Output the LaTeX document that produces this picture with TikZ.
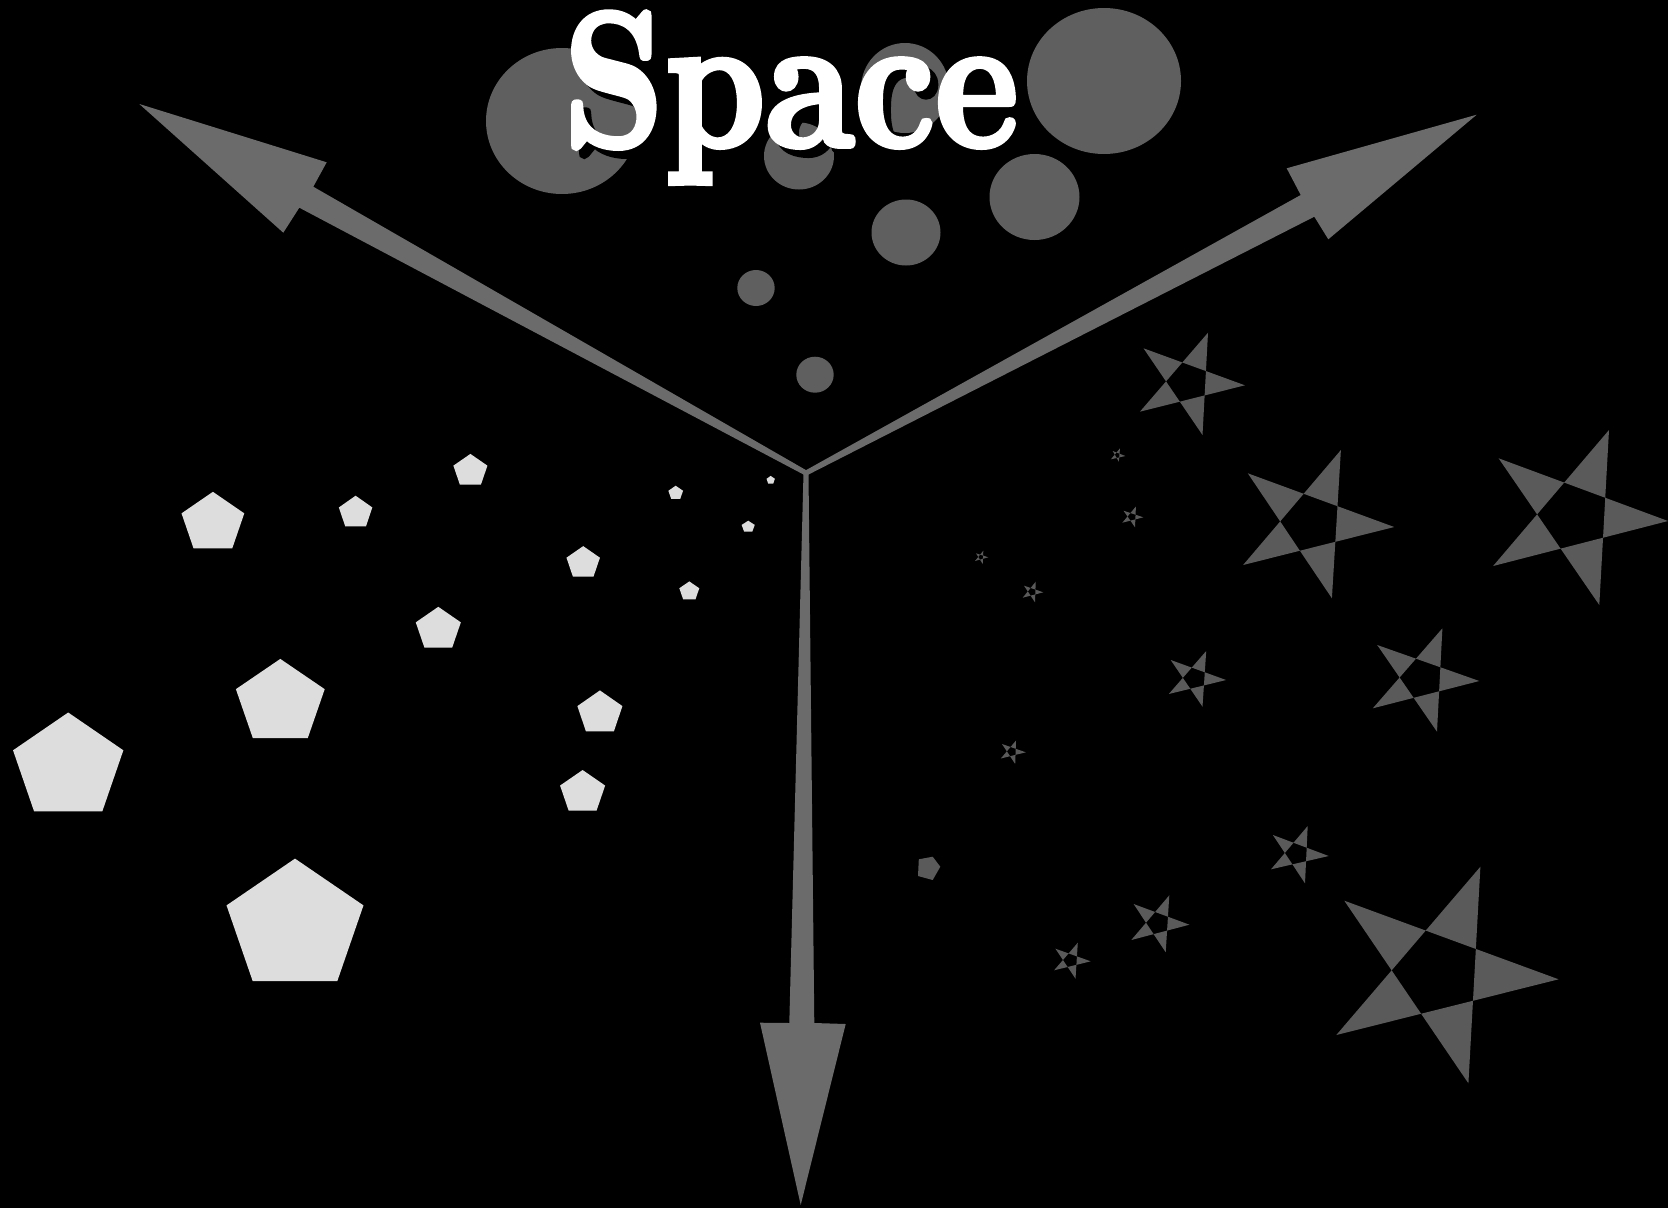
\documentclass[tikz,border=0pt]{standalone}
\usepackage{fontspec}
\newfontfamily\titlefont{lmroman10-bold.otf}[FakeBold=3]
\usepackage{graphicx}
\definecolor{arrowgray}{RGB}{107,107,107}
\definecolor{circgray}{RGB}{95,95,95}
\definecolor{stargray}{RGB}{90,90,90}
\definecolor{pentgray}{RGB}{221,221,221}
\tikzset{
  circfill/.style={fill=circgray},
  starfill/.style={fill=stargray, even odd rule},
  pentfill/.style={fill=pentgray},
  arrowfill/.style={fill=arrowgray},
  titlestyle/.style={inner sep=0pt, anchor=base, font=\titlefont\fontsize{192}{200}\selectfont}
}
\newcommand\pent[4]{\fill[pentfill, shift={(#1,#2)}, xscale=#3, yscale=#4]
  (-90:1) -- (-18:1) -- (54:1) -- (126:1) -- (198:1) -- cycle;}
\newcommand\pstar[5]{\fill[starfill] #1 -- #3 -- #5 -- #2 -- #4 -- cycle;}
\begin{document}
\begin{tikzpicture}[x=1pt, y=-1pt]
% background
\fill[black] (0,0) rectangle (1668,1208);
\useasboundingbox (0,0) rectangle (1668,1208);

% circles
\fill[circfill] (562,121) ellipse [x radius=76pt, y radius=73pt];
\fill[circfill] (1104,81) ellipse [x radius=77pt, y radius=73pt];
\fill[circfill] (905,88) ellipse [x radius=44pt, y radius=45pt];
\fill[circfill] (799,156) ellipse [x radius=35pt, y radius=33.5pt];
\fill[circfill] (1034.5,197) ellipse [x radius=45pt, y radius=43pt];
\fill[circfill] (906,232.5) ellipse [x radius=34.5pt, y radius=33pt];
\fill[circfill] (756,288) ellipse [x radius=18.7pt, y radius=18pt];
\fill[circfill] (815,374.7) ellipse [x radius=18.7pt, y radius=18pt];

% title with shadow
\node[titlestyle, text=black] (titleshadow) at (799,154) {\scalebox{0.825}[1]{Space}};
\node[titlestyle, text=white] (title) at (791,146) {\scalebox{0.825}[1]{Space}};

% arrows
\coordinate (hub) at (806,473);
\fill[arrowfill] (807.2,470.8) -- (313.3,186.7) -- (326.7,162.3) -- (139.3,104)
  -- (283.3,232.7) -- (299.3,207.7) -- (804.8,475.2) -- cycle;
\fill[arrowfill] (804.8,470.8) -- (1300.7,195) -- (1286.7,168.3) -- (1476.7,114.7)
  -- (1328.3,239.3) -- (1314.3,216.7) -- (807.2,475.2) -- cycle;
\fill[arrowfill] (803.5,473) -- (789.3,1023) -- (760,1022.7) -- (800.7,1205)
  -- (845.7,1024) -- (814.3,1023) -- (808.5,473) -- cycle;

% pentagons
\pent{295}{926.3}{72}{67.7}
\pent{68.2}{767.2}{58}{54.7}
\pent{280.3}{702.7}{46.7}{43.8}
\pent{212.9}{523}{33}{31.2}
\pent{355.6}{512.7}{17.6}{17}
\pent{470.4}{470.9}{17.9}{17}
\pent{438.3}{629.3}{23.7}{22.5}
\pent{583.2}{562.9}{17.6}{16.8}
\pent{599.9}{713.1}{23.7}{22.7}
\pent{582.6}{792.5}{23.7}{22.5}
\pent{675.7}{493}{7.7}{7.3}
\pent{689.3}{591.3}{10.5}{9.9}
\pent{748.2}{526.8}{6.9}{6.1}
\pent{770.7}{480.1}{4.4}{4.2}

% dark pentagon
\fill[fill=stargray] (918.8,859.3) -- (932.7,856.7) -- (940.3,866.7) -- (932.7,880) -- (918,876) -- cycle;

% stars
\pstar{(1208,332.7)}{(1244.9,385.3)}{(1202.5,435)}{(1139.9,411.7)}{(1143.5,348.3)}
\pstar{(1340.9,450)}{(1394.2,527)}{(1331.9,598.3)}{(1243.1,565)}{(1247.8,473.3)}
\pstar{(1609,430)}{(1668,521)}{(1599.3,605)}{(1493.1,566)}{(1498.6,458.3)}
\pstar{(1442.4,628.3)}{(1479.3,681)}{(1437,731.7)}{(1372.8,708.3)}{(1377.2,645)}
\pstar{(1206.2,651)}{(1226.1,680)}{(1202.5,706.7)}{(1168.8,694)}{(1170.7,660)}
\pstar{(1120,448.3)}{(1125.4,456)}{(1118.8,461.7)}{(1110.9,459.3)}{(1112.7,451)}
\pstar{(1135.9,506.5)}{(1143.4,517.3)}{(1135,527.3)}{(1122.3,522.7)}{(1123.5,510.7)}
\pstar{(983.3,550.7)}{(988.3,557.3)}{(982.7,564)}{(975,561)}{(976,553.3)}
\pstar{(1035.7,581.7)}{(1043.3,592.3)}{(1035,602.3)}{(1022.7,597.7)}{(1024,585.7)}
\pstar{(1016,740.5)}{(1025.8,752.3)}{(1015.2,764)}{(1000.8,758.5)}{(1002,744)}
\pstar{(1077.8,942.7)}{(1090.7,961.3)}{(1075.5,978.7)}{(1054.1,970.3)}{(1055.4,948.7)}
\pstar{(1169.3,895.3)}{(1189.4,924.7)}{(1165.7,952.3)}{(1131.3,940)}{(1133.6,904)}
\pstar{(1307.7,826)}{(1328.7,856)}{(1305,883.3)}{(1271,869.3)}{(1272.9,835)}
\pstar{(1480.4,866.7)}{(1558.6,979.3)}{(1468.4,1083.3)}{(1336.3,1035)}{(1344.3,900.7)}
\end{tikzpicture}
\end{document}
